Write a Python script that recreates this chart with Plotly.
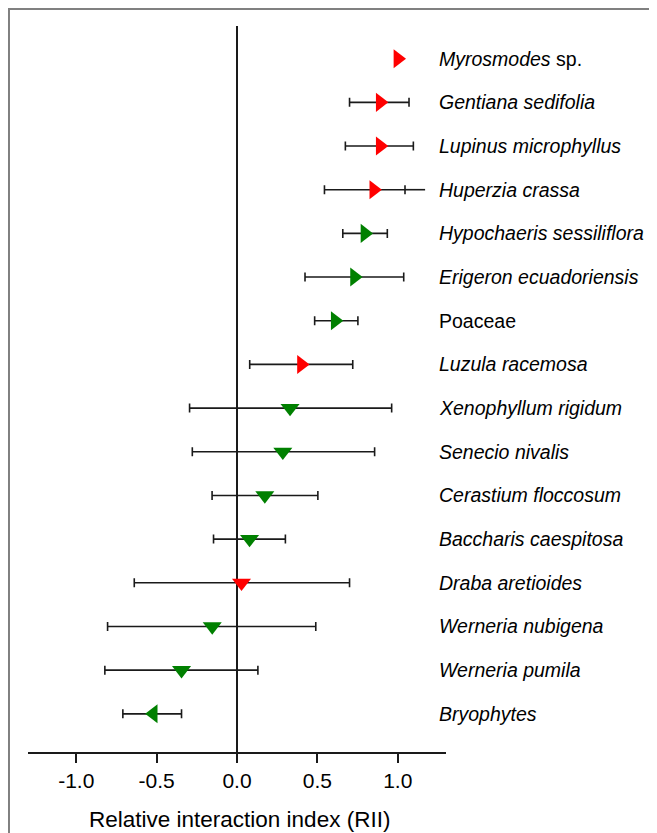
import plotly.graph_objects as go

# ---- data (top to bottom) ----
species = ["Myrosmodes sp.", "Gentiana sedifolia", "Lupinus microphyllus", "Huperzia crassa",
           "Hypochaeris sessiliflora", "Erigeron ecuadoriensis", "Poaceae", "Luzula racemosa",
           "Xenophyllum rigidum", "Senecio nivalis", "Cerastium floccosum", "Baccharis caespitosa",
           "Draba aretioides", "Werneria nubigena", "Werneria pumila", "Bryophytes"]
labels = ["<i>Myrosmodes</i> sp.", "<i>Gentiana sedifolia</i>", "<i>Lupinus microphyllus</i>",
          "<i>Huperzia crassa</i>", "<i>Hypochaeris sessiliflora</i>", "<i>Erigeron ecuadoriensis</i>",
          "Poaceae", "<i>Luzula racemosa</i>", "<i>Xenophyllum rigidum</i>", "<i>Senecio nivalis</i>",
          "<i>Cerastium floccosum</i>", "<i>Baccharis caespitosa</i>", "<i>Draba aretioides</i>",
          "<i>Werneria nubigena</i>", "<i>Werneria pumila</i>", "<i>Bryophytes</i>"]
rii = [1.0, 0.89, 0.89, 0.85, 0.795, 0.73, 0.61, 0.40,
       0.33, 0.285, 0.173, 0.078, 0.028, -0.154, -0.345, -0.52]
ci_low = [None, 0.70, 0.674, 0.544, 0.658, 0.423, 0.483, 0.079,
          -0.295, -0.278, -0.155, -0.146, -0.639, -0.805, -0.822, -0.71]
ci_high = [None, 1.07, 1.097, 1.045, 0.935, 1.037, 0.752, 0.72,
           0.962, 0.856, 0.503, 0.301, 0.70, 0.49, 0.13, -0.345]
group = ["red", "red", "red", "red", "green", "green", "green", "red",
         "green", "green", "green", "green", "red", "green", "green", "green"]
symbol = ["triangle-right"] * 8 + ["triangle-down"] * 7 + ["triangle-left"]
huperzia_tail = [1.045, 1.17]

xticks = [-1.0, -0.5, 0.0, 0.5, 1.0]
xticklabels = ["-1.0", "-0.5", "0.0", "0.5", "1.0"]
xtitle = "Relative interaction index (RII)"

color_map = {"red": "#ff0000", "green": "#008000"}
FONT = "Liberation Sans, Arial, sans-serif"

fig = go.Figure()

# error bars
eb_idx = [i for i in range(len(species)) if ci_low[i] is not None]
fig.add_trace(go.Scatter(
    x=[rii[i] for i in eb_idx],
    y=[species[i] for i in eb_idx],
    mode="markers",
    marker=dict(size=1, opacity=0),
    error_x=dict(type="data", symmetric=False,
                 array=[ci_high[i] - rii[i] for i in eb_idx],
                 arrayminus=[rii[i] - ci_low[i] for i in eb_idx],
                 color="#1a1a1a", thickness=1.6, width=4.5),
    hoverinfo="skip", showlegend=False,
))

# extra line segment beyond cap for Huperzia
fig.add_trace(go.Scatter(
    x=huperzia_tail, y=["Huperzia crassa"] * 2, mode="lines",
    line=dict(color="#1a1a1a", width=1.6), hoverinfo="skip", showlegend=False,
))

# markers
fig.add_trace(go.Scatter(
    x=rii, y=species, mode="markers",
    marker=dict(symbol=symbol, size=16.5, color=[color_map[g] for g in group],
                line=dict(width=0)),
    showlegend=False,
))

# species labels
for sp, lab in zip(species, labels):
    fig.add_annotation(x=1.245, y=sp, xref="x", yref="y", text=lab, showarrow=False,
                       xanchor="left", yanchor="middle",
                       font=dict(family=FONT, size=19.5, color="#000000"))

# x-axis title
fig.add_annotation(x=0.507, y=-0.0936, xref="paper", yref="paper", text=xtitle,
                   showarrow=False, xanchor="center", yanchor="middle",
                   font=dict(family=FONT, size=22.5, color="#000000"))

# outer frame
fig.add_shape(type="rect", xref="paper", yref="paper",
              x0=-0.0455, y0=-0.3, x1=1.7, y1=1.0234,
              line=dict(color="#808080", width=2), fillcolor="rgba(0,0,0,0)")

fig.update_layout(
    width=657, height=833,
    margin=dict(l=20, r=219, t=18, b=89),
    paper_bgcolor="white", plot_bgcolor="white",
    font=dict(family=FONT, color="#000000"),
    xaxis=dict(range=[-1.3, 1.3], tickvals=xticks, ticktext=xticklabels,
               ticks="outside", ticklen=9, tickwidth=1.5, tickcolor="#1a1a1a",
               showline=True, linewidth=1.6, linecolor="#1a1a1a",
               showgrid=False, zeroline=True, zerolinecolor="#1a1a1a", zerolinewidth=1.6,
               tickfont=dict(family=FONT, size=21, color="#000000")),
    yaxis=dict(type="category", categoryorder="array", categoryarray=list(reversed(species)),
               range=[-0.874, 15.748], showticklabels=False, showgrid=False,
               zeroline=False, showline=False, ticks=""),
)

fig.write_html("out.html")
